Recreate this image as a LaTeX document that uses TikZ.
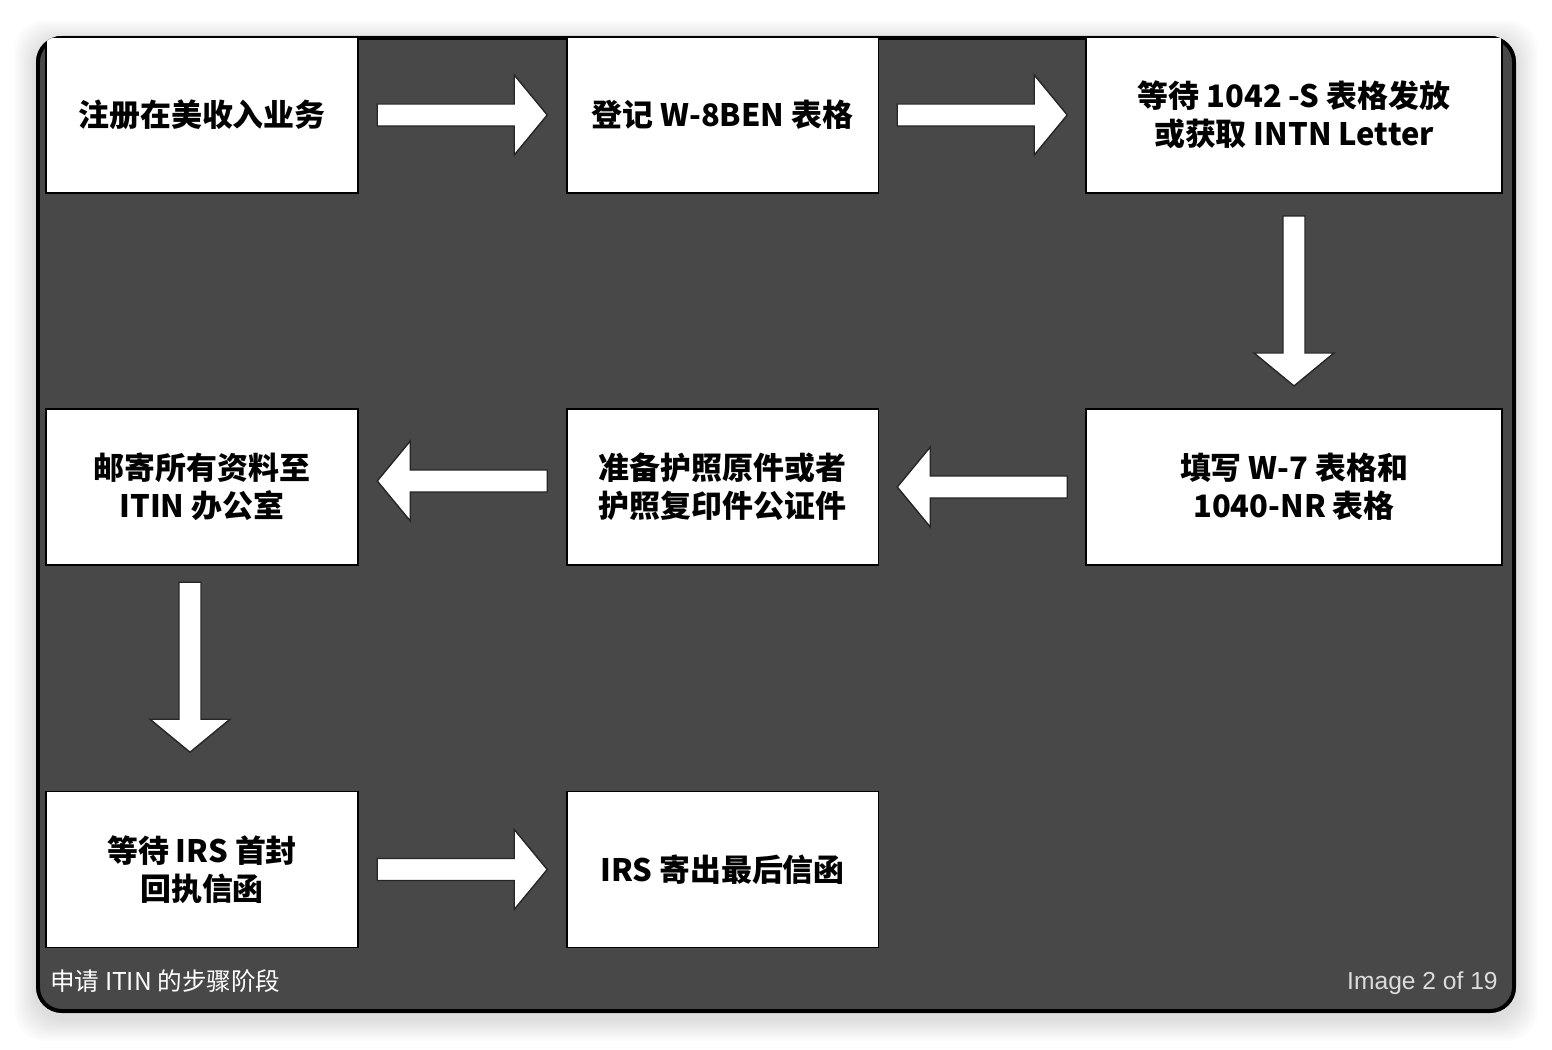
\documentclass[tikz,border=0pt]{standalone}
\usepackage{fontspec}
\usepackage{tikz}
\usetikzlibrary{calc}
\newfontfamily\cjk{Noto Sans CJK SC}
\newfontfamily\capfont{Liberation Sans}
\definecolor{panelgray}{HTML}{484848}
\definecolor{capgray}{HTML}{DCDCDC}

\tikzset{
  stepbox/.style={draw=black, line width=1.1pt, fill=white, minimum width=6.24cm,
    minimum height=3.12cm, inner sep=0pt, align=center,
    font=\cjk\bfseries\fontsize{17.6}{21.5}\selectfont},
  widebox/.style={stepbox, minimum width=8.32cm},
  fatarrow/.style={draw=black!85, line width=0.8pt, fill=white, line join=miter,
    to path={
      ($(\tikztostart)!.5!(\tikztotarget)!1.7cm!(\tikztostart)$) coordinate (fa-t)
      ($(\tikztostart)!.5!(\tikztotarget)!1.7cm!(\tikztotarget)$) coordinate (fa-p)
      ($(fa-p)!0.66cm!(fa-t)$) coordinate (fa-h)
      ($(fa-t)!0.22cm!90:(fa-p)$) -- ($(fa-h)!0.22cm!90:(fa-p)$)
      -- ($(fa-h)!0.8cm!90:(fa-p)$) -- (fa-p) -- ($(fa-h)!0.8cm!-90:(fa-p)$)
      -- ($(fa-h)!0.22cm!-90:(fa-p)$) -- ($(fa-t)!0.22cm!-90:(fa-p)$) -- cycle}}
}

\begin{document}
\begin{tikzpicture}[x=0.02cm, y=-0.02cm]
    \useasboundingbox (0,0) rectangle (1552,1050);

    % Draw the soft shadow round the panel
    \foreach \s in {2,4,...,22}
        \fill[black, opacity=0.012, rounded corners=0.6cm] (36-\s,42-\s) rectangle (1516+\s,1019+\s);

    % Draw the panel
    \fill[panelgray, rounded corners=0.52cm] (36,36) rectangle (1516,1013);
    \draw[black, line width=2.2pt, rounded corners=0.48cm] (38,38) rectangle (1514,1011);

    \begin{scope}
        \clip[rounded corners=0.52cm] (36,36) rectangle (1516,1013);

        % Draw the steps
        \node[stepbox] (reg) at (202,115) {注册在美收入业务};
        \node[stepbox] (wben) at (722.5,115) {登记 W-8BEN 表格};
        \node[widebox] (wait) at (1294,115) {等待 1042 -S 表格发放\\或获取 INTN Letter};
        \node[widebox] (fill) at (1294,487) {填写 W-7 表格和\\1040-NR 表格};
        \node[stepbox] (pass) at (722.5,487) {准备护照原件或者\\护照复印件公证件};
        \node[stepbox] (mail) at (202,487) {邮寄所有资料至\\ITIN 办公室};
        \node[stepbox] (ack) at (202,869.5) {等待 IRS 首封\\回执信函};
        \node[stepbox] (final) at (722.5,869.5) {IRS 寄出最后信函};

        % Draw the block arrows
        \draw[fatarrow] (reg.east) to (wben.west);
        \draw[fatarrow] (wben.east) to (wait.west);
        \draw[fatarrow] (wait.south) to (fill.north);
        \draw[fatarrow] (fill.west) to (pass.east);
        \draw[fatarrow] ([yshift=0.12cm]pass.west) to ([yshift=0.12cm]mail.east);
        \draw[fatarrow] ([xshift=-0.24cm, yshift=0.22cm]mail.south) to ([xshift=-0.24cm, yshift=0.22cm]ack.north);
        \draw[fatarrow] (ack.east) to (final.west);
    \end{scope}

    % Draw the captions
    \node[anchor=base west, inner sep=0pt, text=white, font=\cjk\fontsize{14}{16}\selectfont] (title) at (50,990) {申请 ITIN 的步骤阶段};
    \node[anchor=base east, inner sep=0pt, text=capgray, font=\capfont\fontsize{14}{16}\selectfont] (count) at (1498,989) {Image 2 of 19};
\end{tikzpicture}
\end{document}
